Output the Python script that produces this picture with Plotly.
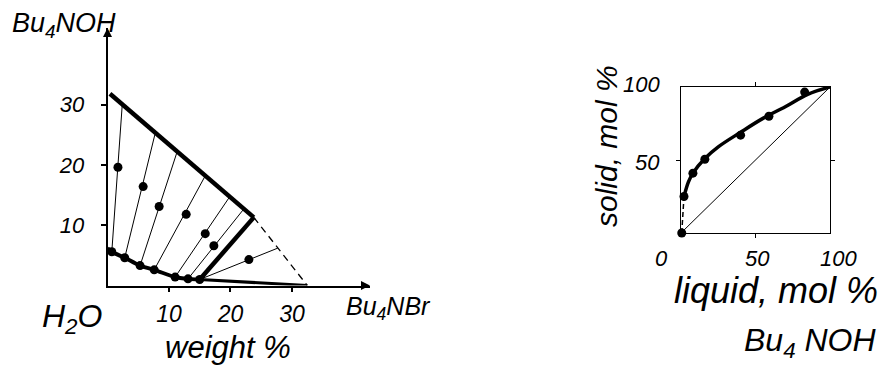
import plotly.graph_objects as go

# ---------------- Left panel: H2O - Bu4NBr - Bu4NOH (weight %) ----------------
upper_line_x = [0.4, 23.8]          # solid-solution boundary (top)
upper_line_y = [31.8, 11.3]
corner_line_x = [23.8, 15.0]
corner_line_y = [11.3, 1.0]
lower_line_x = [15.0, 32.5]
lower_line_y = [1.0, 0.0]
dashed_x = [23.8, 32.5]
dashed_y = [11.3, 0.0]

curve_x = [0.0, 0.7, 2.8, 5.3, 7.6, 11.0, 13.1, 15.0]   # liquidus curve
curve_y = [6.2, 5.6, 4.6, 3.3, 2.6, 1.4, 1.1, 1.0]

tie_liquid_x = [0.7, 2.8, 5.3, 7.6, 11.0, 13.1, 15.0]
tie_liquid_y = [5.6, 4.6, 3.3, 2.6, 1.4, 1.1, 1.0]
tie_solid_x = [2.4, 7.7, 11.3, 15.8, 19.8, 22.1, 27.7]
tie_solid_y = [30.0, 25.0, 22.1, 18.0, 14.6, 12.6, 6.2]
mix_x = [1.7, 5.8, 8.4, 12.8, 15.9, 17.3, 23.0]
mix_y = [19.6, 16.4, 13.1, 11.8, 8.6, 6.6, 4.3]

left_x_ticks = [10, 20, 30]
left_y_ticks = [10, 20, 30]

# ---------------- Right panel: solid vs liquid mol % Bu4NOH ----------------
dist_curve_x = [2, 5, 8, 16, 25, 40, 55, 70, 85, 100]
dist_curve_y = [25, 35, 41, 51, 59, 69, 78.5, 86.5, 95, 100]
dist_pts_x = [0.5, 2, 8, 16, 40, 59, 83]
dist_pts_y = [0, 25, 41, 50.5, 67, 80, 96.5]
dist_dash_x = [0.5, 2]
dist_dash_y = [0, 25]
diag_x = [0, 100]
diag_y = [0, 100]
right_x_ticks = [0, 50, 100]
right_y_ticks = [50, 100]

FONT = "Liberation Sans"
BLACK = "black"

# the page body has an 8 px margin; lay out in reference pixels and compensate
OFF = 8
FW, FH = 890 - OFF, 371 - OFF


def px(x):
    return (x - OFF) / FW


def py(y):
    return 1 - (y - OFF) / FH


fig = go.Figure()

# tie lines (thin)
tx, ty = [], []
for a, b, c, d in zip(tie_liquid_x, tie_liquid_y, tie_solid_x, tie_solid_y):
    tx += [a, c, None]
    ty += [b, d, None]
fig.add_trace(go.Scatter(x=tx, y=ty, mode="lines", line=dict(color=BLACK, width=1),
                         xaxis="x", yaxis="y", showlegend=False, hoverinfo="skip"))
# thick boundaries
for xs, ys, w in [(upper_line_x, upper_line_y, 4.5), (corner_line_x, corner_line_y, 4.5),
                  (lower_line_x, lower_line_y, 3)]:
    fig.add_trace(go.Scatter(x=xs, y=ys, mode="lines", line=dict(color=BLACK, width=w),
                             xaxis="x", yaxis="y", showlegend=False, hoverinfo="skip"))
fig.add_trace(go.Scatter(x=curve_x, y=curve_y, mode="lines",
                         line=dict(color=BLACK, width=4, shape="spline"),
                         xaxis="x", yaxis="y", showlegend=False, hoverinfo="skip"))
fig.add_trace(go.Scatter(x=dashed_x, y=dashed_y, mode="lines",
                         line=dict(color=BLACK, width=1.3, dash="7px,5px"),
                         xaxis="x", yaxis="y", showlegend=False, hoverinfo="skip"))
fig.add_trace(go.Scatter(x=tie_liquid_x, y=tie_liquid_y, mode="markers",
                         marker=dict(color=BLACK, size=9), cliponaxis=False,
                         xaxis="x", yaxis="y", showlegend=False, hoverinfo="skip"))
fig.add_trace(go.Scatter(x=mix_x, y=mix_y, mode="markers",
                         marker=dict(color=BLACK, size=9), cliponaxis=False,
                         xaxis="x", yaxis="y", showlegend=False, hoverinfo="skip"))

LX0, LX1 = 107.5, 370
LY0, LY1 = 285.5, 28
lx_max = 42.7
ly_max = 42.7

# axis arrowheads
fig.add_trace(go.Scatter(x=[0, lx_max], y=[ly_max, 0], mode="markers",
                         marker=dict(color=BLACK, size=9, symbol=["arrow-up", "arrow-right"],
                                     line=dict(width=0)),
                         cliponaxis=False, xaxis="x", yaxis="y", showlegend=False,
                         hoverinfo="skip"))

# right panel
fig.add_trace(go.Scatter(x=diag_x, y=diag_y, mode="lines", line=dict(color=BLACK, width=1),
                         xaxis="x2", yaxis="y2", showlegend=False, hoverinfo="skip"))
fig.add_trace(go.Scatter(x=dist_dash_x, y=dist_dash_y, mode="lines",
                         line=dict(color=BLACK, width=1.5, dash="5px,3px"), cliponaxis=False,
                         xaxis="x2", yaxis="y2", showlegend=False, hoverinfo="skip"))
fig.add_trace(go.Scatter(x=dist_curve_x, y=dist_curve_y, mode="lines",
                         line=dict(color=BLACK, width=3.5, shape="spline"), cliponaxis=False,
                         xaxis="x2", yaxis="y2", showlegend=False, hoverinfo="skip"))
fig.add_trace(go.Scatter(x=dist_pts_x, y=dist_pts_y, mode="markers",
                         marker=dict(color=BLACK, size=9), cliponaxis=False,
                         xaxis="x2", yaxis="y2", showlegend=False, hoverinfo="skip"))

fig.update_layout(
    width=FW, height=FH, margin=dict(l=0, r=0, t=0, b=0),
    paper_bgcolor="white", plot_bgcolor="white",
    font=dict(family=FONT, color=BLACK),
    xaxis=dict(domain=[px(LX0), px(LX1)], range=[0, lx_max], anchor="y",
               showgrid=False, zeroline=False, showline=True, linecolor=BLACK, linewidth=1.5,
               ticks="outside", ticklen=5, tickwidth=1.5, tickcolor=BLACK,
               tickvals=left_x_ticks, ticktext=[str(v) for v in left_x_ticks],
               tickfont=dict(size=23, style="italic"), ticklabelstandoff=2),
    yaxis=dict(domain=[py(LY0), py(LY1)], range=[0, ly_max], anchor="x",
               showgrid=False, zeroline=False, showline=True, linecolor=BLACK, linewidth=1.5,
               ticks="outside", ticklen=5, tickwidth=1.5, tickcolor=BLACK,
               tickvals=left_y_ticks, ticktext=[str(v) for v in left_y_ticks],
               tickfont=dict(size=22, style="italic"), ticklabelstandoff=12),
    xaxis2=dict(domain=[px(681), px(830)], range=[0, 100], anchor="y2",
                showgrid=False, zeroline=False, showline=True, mirror="ticks",
                linecolor=BLACK, linewidth=1.3, ticks="outside", ticklen=4, tickcolor=BLACK,
                tickvals=[50], showticklabels=False),
    yaxis2=dict(domain=[py(233), py(87)], range=[0, 100], anchor="x2",
                showgrid=False, zeroline=False, showline=True, mirror="ticks",
                linecolor=BLACK, linewidth=1.3, ticks="outside", ticklen=4, tickcolor=BLACK,
                tickvals=[50], showticklabels=False),
)

ann = []


def txt(text, x, y, size, xanchor="left", yanchor="top", angle=0):
    ann.append(dict(text=text, x=px(x), y=py(y), xref="paper", yref="paper",
                    xanchor=xanchor, yanchor=yanchor, showarrow=False, textangle=angle,
                    font=dict(size=size, family=FONT, color=BLACK, style="italic")))


txt("Bu<sub>4</sub>NOH", 10, 6, 27)
txt("H<sub>2</sub>O", 40, 296, 32)
txt("weight %", 228, 328, 31, xanchor="center")
txt("Bu<sub>4</sub>NBr", 344, 290, 25)
txt("solid, mol %", 606, 146, 30, xanchor="center", yanchor="middle", angle=-90)
txt("liquid, mol %", 672, 268, 36)
txt("Bu<sub>4</sub> NOH", 742, 320, 32)

# right panel tick labels
rx_shift = [-20, 2, 8]
for v, s in zip(right_x_ticks, rx_shift):
    ann.append(dict(text=str(v), x=v, y=py(244), xref="x2", yref="paper", xshift=s,
                    xanchor="center", yanchor="top", showarrow=False,
                    font=dict(size=22, family=FONT, color=BLACK, style="italic")))
ry_shift = [-2, 2]
for v, s in zip(right_y_ticks, ry_shift):
    ann.append(dict(text=str(v), x=px(662), y=v, xref="paper", yref="y2", yshift=s,
                    xanchor="right", yanchor="middle", showarrow=False,
                    font=dict(size=22, family=FONT, color=BLACK, style="italic")))

fig.update_layout(annotations=ann)
fig.write_html("out.html")
